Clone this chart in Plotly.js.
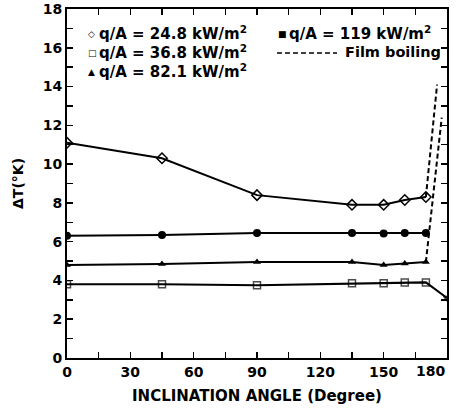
<!DOCTYPE html>
<html><head><meta charset="utf-8">
<script src="https://cdn.plot.ly/plotly-3.0.1.min.js"></script>
<style>html,body{margin:0;padding:0;background:#fff}#chart{width:457px;height:412px}</style>
</head><body><div id="chart"></div>
<script>
// Data
const angles = [0, 45, 90, 135, 150, 160, 170];
const dT_24_8 = [11.1, 10.3, 8.4, 7.9, 7.9, 8.15, 8.3];
const angles_36_8 = [0, 45, 90, 135, 150, 160, 170, 180];
const dT_36_8 = [3.8, 3.8, 3.75, 3.85, 3.85, 3.9, 3.9, 3.1];
const dT_82_1 = [4.8, 4.85, 4.95, 4.95, 4.8, 4.87, 4.95];
const dT_119 = [6.3, 6.35, 6.45, 6.45, 6.42, 6.45, 6.45];
const filmA_x = [170, 175.3];
const filmA_y = [8.3, 14.1];
const filmB_x = [170, 177.5];
const filmB_y = [4.95, 12.4];
const xTickVals = [0, 30, 60, 90, 120, 150, 180];
const xTickText = ["0", "30", "60", "90", "120", "150", ""];
const lastXTick = "180";
const legendLabels = ["q/A = 24.8 kW/m<sup>2</sup>", "q/A = 36.8 kW/m<sup>2</sup>", "q/A = 82.1 kW/m<sup>2</sup>", "q/A = 119 kW/m<sup>2</sup>", "Film boiling"];
const xTitle = "INCLINATION ANGLE (Degree)";
const yTitle = "ΔT(°K)";

const FONT = {family: "DejaVu Sans, sans-serif", size: 14, color: "#000", weight: "bold"};
const line = {color: "#000", width: 2};

const traces = [
  {x: angles, y: dT_24_8, mode: "lines+markers", line: line,
   marker: {symbol: "diamond-open", size: 8, color: "#000", line: {width: 1.5, color: "#000"}}},
  {x: angles_36_8, y: dT_36_8, mode: "lines+markers", line: line,
   marker: {symbol: ["square-open","square-open","square-open","square-open","square-open","square-open","square-open","triangle-down"],
            size: [7,7,7,7,7,7,7,6], color: "#000", line: {width: 1.5, color: "#000"}}},
  {x: angles, y: dT_82_1, mode: "lines+markers", line: line,
   marker: {symbol: "triangle-up", size: 7, color: "#000"}},
  {x: angles, y: dT_119, mode: "lines+markers", line: line,
   marker: {symbol: "circle", size: 8, color: "#000"}},
  {x: filmA_x, y: filmA_y, mode: "lines", line: {color: "#000", width: 2, dash: "5px,3px"}},
  {x: filmB_x, y: filmB_y, mode: "lines", line: {color: "#000", width: 2, dash: "5px,3px"}}
];

// legend position helpers (pixel -> paper)
const L = 67, R = 447, T = 9, B = 358.5;
const px = v => (v - L) / (R - L);
const py = v => (B - v) / (B - T);
const af = {family: FONT.family, size: 15, color: "#000", weight: "bold"};
const gf = {family: "DejaVu Sans, sans-serif", size: 9, color: "#000"};
function ann(text, x, y, font) {
  return {text: text, xref: "paper", yref: "paper", x: px(x), y: py(y), xanchor: "left", yanchor: "middle", showarrow: false, font: font};
}
const annotations = [
  ann("◇", 86, 34, gf), ann(legendLabels[0], 97, 33, af),
  ann("□", 86, 53.5, gf), ann(legendLabels[1], 97, 52.5, af),
  ann("▲", 86, 72.5, gf), ann(legendLabels[2], 97, 71.5, af),
  ann("■", 276, 34, gf), ann(legendLabels[3], 287, 33, af),
  ann(legendLabels[4], 343, 52.5, {family: FONT.family, size: 14.5, color: "#000", weight: "bold"}),
  {text: lastXTick, xref: "x", yref: "paper", x: 180, y: py(372), xanchor: "right", yanchor: "middle",
   showarrow: false, font: FONT}
];
const shapes = [
  {type: "line", xref: "paper", yref: "paper", x0: px(277), x1: px(337), y0: py(53), y1: py(53),
   line: {color: "#000", width: 1.5, dash: "5px,3px"}}
];

const layout = {
  width: 457, height: 412,
  margin: {l: 67, r: 10, t: 9, b: 53.5},
  paper_bgcolor: "#fff", plot_bgcolor: "#fff",
  showlegend: false,
  font: FONT,
  xaxis: {range: [0, 180], tickmode: "array", tickvals: xTickVals, ticktext: xTickText,
          ticks: "inside", ticklen: 6, tickwidth: 1.5, tickcolor: "#000",
          minor: {dtick: 15, ticks: "inside", ticklen: 6, tickwidth: 1.5, tickcolor: "#000"},
          showline: true, linewidth: 2, linecolor: "#000", mirror: "ticks", showgrid: false, zeroline: false,
          tickfont: FONT, title: {text: xTitle, font: {family: FONT.family, size: 15, color: "#000", weight: "bold"}, standoff: 12}, automargin: false},
  yaxis: {range: [0, 18], dtick: 2, tick0: 0, ticks: "inside", ticklen: 6, tickwidth: 1.5, tickcolor: "#000",
          minor: {dtick: 1, ticks: "inside", ticklen: 6, tickwidth: 1.5, tickcolor: "#000"},
          showline: true, linewidth: 2, linecolor: "#000", mirror: "ticks", showgrid: false, zeroline: false,
          ticklabeloverflow: "allow",
          tickfont: FONT, title: {text: yTitle, font: FONT, standoff: 16}, automargin: false},
  annotations: annotations,
  shapes: shapes
};
Plotly.newPlot("chart", traces, layout, {staticPlot: true, displayModeBar: false});
</script></body></html>
